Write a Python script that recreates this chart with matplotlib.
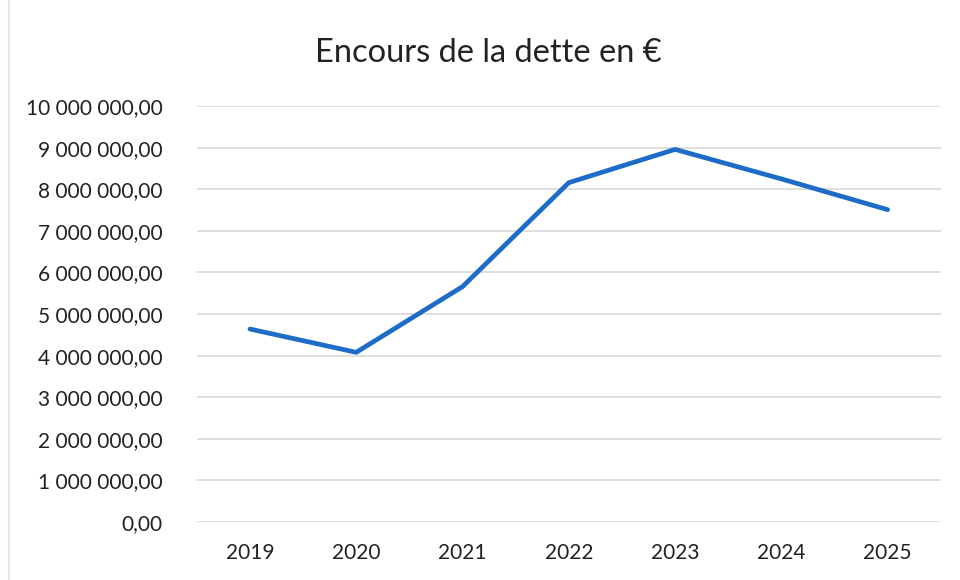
import matplotlib.pyplot as plt
from matplotlib.lines import Line2D
from matplotlib.ticker import FuncFormatter, MultipleLocator

# --- data ---
years = ['2019', '2020', '2021', '2022', '2023', '2024', '2025']
encours = [4640000, 4080000, 5660000, 8160000, 8960000, 8250000, 7510000]

plt.rcParams['font.family'] = ['Lato', 'DejaVu Sans']


def fr_format(v, pos):
    # French style: space as thousands separator, comma for decimals
    s = f"{v:,.2f}"
    return s.replace(',', ' ').replace('.', ',')


fig = plt.figure(figsize=(9.6, 5.8), dpi=100)
ax = fig.add_axes([0.205, 0.10, 0.775, 0.717])

x = range(len(years))
ax.plot(x, encours, color='#1c6cc8', linewidth=3.4, solid_capstyle='round',
        solid_joinstyle='round', zorder=3)

ax.set_xlim(-0.5, len(years) - 0.5)
ax.set_ylim(0, 10000000)
ax.yaxis.set_major_locator(MultipleLocator(1000000))
ax.yaxis.set_major_formatter(FuncFormatter(fr_format))
ax.set_xticks(list(x))
ax.set_xticklabels(years)

ax.grid(axis='y', color='#d9d9d9', linewidth=1.2)
ax.set_axisbelow(True)
for side in ['top', 'right', 'left', 'bottom']:
    ax.spines[side].set_visible(False)
ax.tick_params(axis='both', length=0, labelsize=15, colors='#222222')
ax.tick_params(axis='y', pad=24.5)
ax.tick_params(axis='x', pad=15)

fig.text(0.509, 0.908, 'Encours de la dette en €', ha='center', va='center',
         fontsize=23.5, color='#222222')

# faint chart-area border on the left, as in the scanned original
fig.add_artist(Line2D([0.009, 0.009], [0.0, 1.0], transform=fig.transFigure,
                      color='#e6e6e6', linewidth=1.5))

fig.savefig('out.png', dpi=100)
